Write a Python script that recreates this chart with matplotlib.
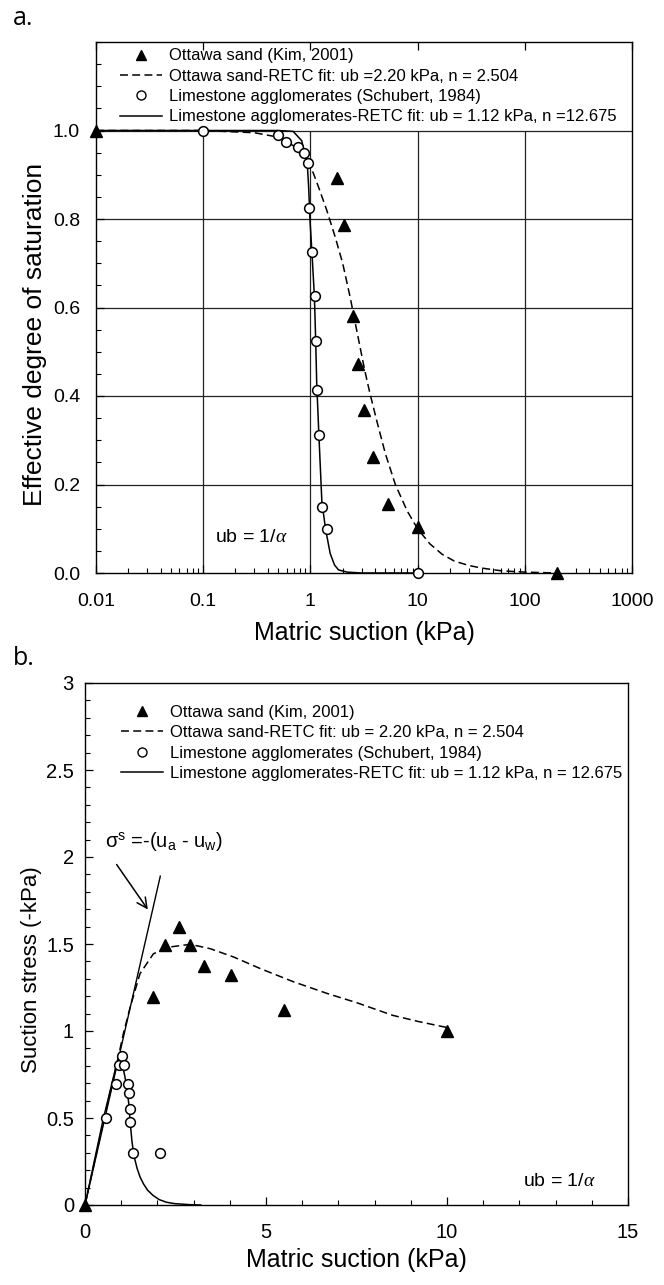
import matplotlib
matplotlib.use("Agg")
import matplotlib.pyplot as plt
from matplotlib.lines import Line2D
from matplotlib.ticker import FixedLocator, MultipleLocator, LogLocator, NullFormatter, FuncFormatter

plt.rcParams["font.family"] = ["Liberation Sans", "DejaVu Sans"]
plt.rcParams["mathtext.fontset"] = "custom"
plt.rcParams["mathtext.rm"] = "Liberation Sans"
plt.rcParams["mathtext.it"] = "Liberation Serif:italic"

# ---- panel a: effective degree of saturation ----
ottawa_h = [0.01, 1.77, 2.07, 2.48, 2.76, 3.18, 3.87, 5.33, 10, 200]
ottawa_se = [1.0, 0.893, 0.787, 0.581, 0.473, 0.368, 0.263, 0.157, 0.103, 0.0]

lime_h = [0.1, 0.5, 0.588, 0.77, 0.87, 0.944, 0.97, 1.035, 1.10, 1.12, 1.145, 1.20, 1.28, 1.42, 10]
lime_se = [1.0, 0.989, 0.974, 0.962, 0.95, 0.926, 0.825, 0.725, 0.625, 0.525, 0.413, 0.312, 0.150, 0.100, 0.0]

# fitted curves
ottawa_fit_h = [0.01, 0.1, 0.3, 0.5, 0.7, 0.85, 1.06, 1.2, 1.42, 1.7, 2.0, 2.34, 2.8, 3.2, 3.6,
                4.2, 5.0, 6.2, 8.0, 10, 13, 17, 22, 30, 40, 60, 100, 200]
ottawa_fit_se = [1.0, 1.0, 0.995, 0.985, 0.965, 0.94, 0.905, 0.87, 0.82, 0.76, 0.70, 0.625, 0.53,
                 0.46, 0.405, 0.34, 0.27, 0.20, 0.14, 0.10, 0.066, 0.042, 0.027, 0.017, 0.011,
                 0.005, 0.002, 0.0]

lime_fit_h = [0.01, 0.5, 0.69, 0.83, 0.87, 0.935, 0.963, 0.99, 1.035, 1.09, 1.12, 1.145, 1.2,
              1.28, 1.39, 1.53, 1.68, 1.83, 2.2, 3.0, 10]
lime_fit_se = [1.0, 1.0, 0.998, 0.977, 0.955, 0.925, 0.872, 0.80, 0.722, 0.624, 0.526, 0.43,
               0.312, 0.16, 0.097, 0.044, 0.018, 0.007, 0.002, 0.0, 0.0]

# ---- panel b: suction stress ----
ottawa_h_b = [0, 1.89, 2.20, 2.60, 2.91, 3.30, 4.02, 5.51, 10]
ottawa_ss = [0, 1.196, 1.497, 1.598, 1.497, 1.374, 1.32, 1.119, 1.0]

lime_h_b = [0.57, 0.87, 0.94, 1.01, 1.08, 1.18, 1.21, 1.24, 1.25, 1.33, 2.07]
lime_ss = [0.5, 0.698, 0.805, 0.855, 0.805, 0.698, 0.646, 0.549, 0.477, 0.299, 0.299]

ottawa_fit_h_b = [0, 0.5, 0.8, 0.95, 1.06, 1.25, 1.52, 1.89, 2.35, 2.91, 3.46, 4.11, 4.85, 5.77,
                  6.70, 7.53, 8.5, 9.2, 10]
ottawa_fit_ss = [0, 0.47, 0.74, 0.88, 0.985, 1.138, 1.33, 1.444, 1.483, 1.498, 1.473, 1.425,
                 1.358, 1.282, 1.215, 1.161, 1.09, 1.055, 1.02]

lime_fit_h_b = [0, 0.5, 0.85, 0.93, 0.98, 1.04, 1.1, 1.16, 1.21, 1.25, 1.3, 1.36, 1.44, 1.52,
                1.62, 1.73, 1.88, 2.05, 2.25, 2.47, 2.89, 3.2]
lime_fit_ss = [0, 0.49, 0.79, 0.83, 0.84, 0.80, 0.74, 0.67, 0.58, 0.47, 0.36, 0.276, 0.21, 0.161,
               0.12, 0.085, 0.055, 0.031, 0.016, 0.008, 0.002, 0.0]

saturated_h = [0, 2.08]
saturated_ss = [0, 1.89]

lab_tri = "Ottawa sand (Kim, 2001)"
lab_lime = "Limestone agglomerates (Schubert, 1984)"

W, H = 664, 1285
DASH = (0, (5.2, 2.8))


def box(left, top, right, bottom):
    return [left / W, 1 - bottom / H, (right - left) / W, (bottom - top) / H]


fig = plt.figure(figsize=(W / 100, H / 100), dpi=100)

h_tri = Line2D([], [], ls="none", marker="^", ms=7.5, color="black")
h_circ = Line2D([], [], ls="none", marker="o", ms=6.5, mfc="white", mec="black", mew=1.0)
h_dash = Line2D([], [], color="black", lw=1.1, ls=DASH)
h_solid = Line2D([], [], color="black", lw=1.1)
leg_kw = dict(loc="upper left", frameon=False, fontsize=12, handlelength=2.5, handletextpad=0.45,
              labelspacing=0.32, borderpad=0, borderaxespad=0)

# ================= a. =================
ax1 = fig.add_axes(box(96, 42, 632, 573))
ax1.set_xscale("log")
ax1.set_xlim(0.01, 1000)
ax1.set_ylim(0, 1.2)

# grid: horizontal lines full width, vertical ones only up to 1.0
ax1.hlines([0.2, 0.4, 0.6, 0.8, 1.0], 0.01, 1000, color="#222222", lw=0.9, zorder=1)
ax1.vlines([0.1, 1, 10, 100], 0, 1.0, color="#222222", lw=0.9, zorder=1)

ax1.plot(ottawa_fit_h, ottawa_fit_se, color="black", lw=1.1, ls=DASH, zorder=3)
ax1.plot(lime_fit_h, lime_fit_se, color="black", lw=1.1, zorder=3)
ax1.plot(ottawa_h, ottawa_se, ls="none", marker="^", ms=8, color="black", clip_on=False, zorder=5)
ax1.plot(lime_h, lime_se, ls="none", marker="o", ms=7, mfc="white", mec="black", mew=1.1,
         clip_on=False, zorder=5)

ax1.legend([h_tri, h_dash, h_circ, h_solid],
           [lab_tri, "Ottawa sand-RETC fit: ub =2.20 kPa, n = 2.504", lab_lime,
            "Limestone agglomerates-RETC fit: ub = 1.12 kPa, n =12.675"],
           bbox_to_anchor=(0.045, 0.988), **leg_kw)

ax1.text(0.13, 0.08, r"ub = 1/$\alpha$", fontsize=14, va="center")

ax1.xaxis.set_major_locator(LogLocator(base=10, numticks=10))
ax1.xaxis.set_minor_locator(LogLocator(base=10, subs=range(2, 10), numticks=20))
ax1.xaxis.set_minor_formatter(NullFormatter())
ax1.xaxis.set_major_formatter(FuncFormatter(lambda v, p: "%g" % v))
ax1.yaxis.set_major_locator(FixedLocator([0, 0.2, 0.4, 0.6, 0.8, 1.0]))
ax1.yaxis.set_minor_locator(MultipleLocator(0.05))
ax1.yaxis.set_major_formatter(FuncFormatter(lambda v, p: "%.1f" % v))
ax1.tick_params(which="both", direction="in", labelsize=14)
ax1.tick_params(axis="x", which="both", pad=14.5)
ax1.tick_params(axis="y", which="both", pad=11.5)
ax1.tick_params(which="major", length=6, width=0.9)
ax1.tick_params(which="minor", length=3.5, width=0.8)
ax1.tick_params(axis="x", which="major", top=True)
for s in ax1.spines.values():
    s.set_linewidth(1.0)
ax1.set_xlabel("Matric suction (kPa)", fontsize=18, labelpad=8)
ax1.set_ylabel("Effective degree of saturation", fontsize=19)
ax1.yaxis.set_label_coords((47 - 96) / 536, 0.45)

fig.text(13 / W, 1 - 25 / H, "a.", fontsize=18, va="baseline", ha="left",
         family=["Open Sans", "DejaVu Sans"])

# ================= b. =================
ax2 = fig.add_axes(box(85, 683, 628, 1205))
ax2.set_xlim(0, 15)
ax2.set_ylim(0, 3)

ax2.plot(saturated_h, saturated_ss, color="black", lw=1.0, zorder=3)
ax2.plot(ottawa_fit_h_b, ottawa_fit_ss, color="black", lw=1.1, ls=DASH, zorder=3)
ax2.plot(lime_fit_h_b, lime_fit_ss, color="black", lw=1.1, zorder=3)
ax2.plot(ottawa_h_b, ottawa_ss, ls="none", marker="^", ms=8, color="black", clip_on=False, zorder=5)
ax2.plot(lime_h_b, lime_ss, ls="none", marker="o", ms=7, mfc="white", mec="black", mew=1.1,
         clip_on=False, zorder=5)

ax2.legend([h_tri, h_dash, h_circ, h_solid],
           [lab_tri, "Ottawa sand-RETC fit: ub = 2.20 kPa, n = 2.504", lab_lime,
            "Limestone agglomerates-RETC fit: ub = 1.12 kPa, n = 12.675"],
           bbox_to_anchor=(0.066, 0.958), **leg_kw)

ax2.annotate("", xy=(1.78, 1.685), xytext=(0.83, 1.97),
             arrowprops=dict(arrowstyle="->", color="black", lw=1.1, mutation_scale=18))
ax2.text(0.55, 2.09, r"$\mathrm{\sigma}^{\mathrm{s}}$ =-(u$_{\mathrm{a}}$ - u$_{\mathrm{w}}$)",
         fontsize=14.5, va="center")
ax2.text(12.1, 0.136, r"ub = 1/$\alpha$", fontsize=14, va="center")

ax2.xaxis.set_major_locator(MultipleLocator(5))
ax2.xaxis.set_minor_locator(MultipleLocator(1))
ax2.yaxis.set_major_locator(MultipleLocator(0.5))
ax2.yaxis.set_minor_locator(MultipleLocator(0.1))
ax2.yaxis.set_major_formatter(FuncFormatter(lambda v, p: "%g" % v))
ax2.tick_params(which="both", direction="in", labelsize=14.5)
ax2.tick_params(axis="x", which="both", pad=13)
ax2.tick_params(axis="y", which="both", pad=8)
ax2.tick_params(which="major", length=6, width=0.9)
ax2.tick_params(which="minor", length=3.5, width=0.8)
for s in ax2.spines.values():
    s.set_linewidth(1.0)
ax2.set_xlabel("Matric suction (kPa)", fontsize=18, labelpad=4)
ax2.set_ylabel("Suction stress (-kPa)", fontsize=16)
ax2.yaxis.set_label_coords((42 - 85) / 543, 0.45)

fig.text(13 / W, 1 - 665 / H, "b.", fontsize=18, va="baseline", ha="left",
         family=["Open Sans", "DejaVu Sans"])

fig.savefig("out.png", dpi=100)
